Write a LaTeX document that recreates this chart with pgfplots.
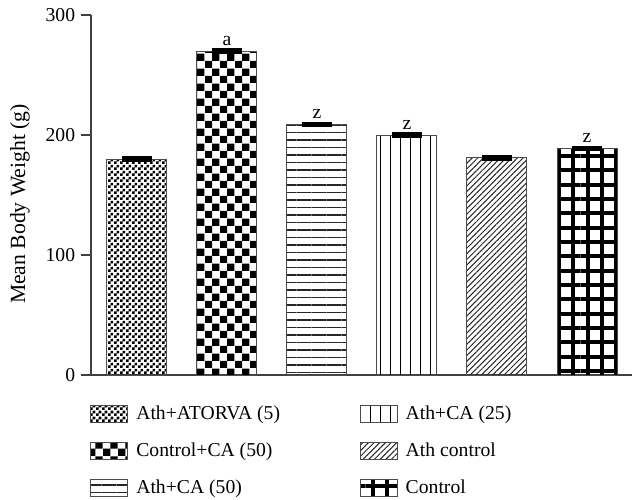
\documentclass[border=0pt]{standalone}
\usepackage{fontspec}
\setmainfont{Liberation Serif}
\usepackage{pgfplots}
\pgfplotsset{compat=1.18}
\usetikzlibrary{patterns,patterns.meta}

\pgfdeclarepattern{
  name=finecheck,
  type=uncolored,
  bottom left={\pgfpointorigin},
  top right={\pgfpoint{3.6pt}{3.6pt}},
  tile size={\pgfpoint{3.6pt}{3.6pt}},
  code={
    \pgfpathrectangle{\pgfpointorigin}{\pgfpoint{1.8pt}{1.8pt}}
    \pgfpathrectangle{\pgfpoint{1.8pt}{1.8pt}}{\pgfpoint{1.8pt}{1.8pt}}
    \pgfusepath{fill}
  }
}
\pgfdeclarepattern{
  name=bigcheck,
  type=uncolored,
  bottom left={\pgfpointorigin},
  top right={\pgfpoint{8.8pt}{8.8pt}},
  tile size={\pgfpoint{8.8pt}{8.8pt}},
  code={
    \pgfpathrectangle{\pgfpointorigin}{\pgfpoint{4.4pt}{4.4pt}}
    \pgfpathrectangle{\pgfpoint{4.4pt}{4.4pt}}{\pgfpoint{4.4pt}{4.4pt}}
    \pgfusepath{fill}
  }
}

\begin{document}
\begin{tikzpicture}
\begin{axis}[
  name=ax,
  scale only axis,
  width=324.6pt, height=216pt,
  xmin=-0.511, xmax=5.5,
  ymin=0, ymax=300,
  axis x line=bottom, axis y line=left,
  axis line style={-, black!75, line width=0.8pt},
  xtick=\empty,
  ytick={0,100,200,300},
  tick align=outside,
  major tick length=6pt,
  y tick style={black!75, line width=0.8pt},
  tick label style={font=\fontsize{11.8}{14}\selectfont},
  /pgf/number format/assume math mode=true,
  ylabel={Mean Body Weight (g)},
  ylabel style={at={(axis description cs:-0.1312,0.475)}, anchor=center, font=\fontsize{13}{15}\selectfont},
  ybar, bar width=36pt, bar shift=0pt,
  error bars/error bar style={line width=1.8pt, black},
  error bars/error mark options={rotate=90, mark size=9pt, line width=1.8pt, black},
  nodes near coords style={anchor=south, font=\fontsize{11.8}{14}\selectfont, text=black, yshift=-0.5pt},
  legend columns=3,
  transpose legend,
  legend image code/.code={\draw[#1] (0pt,-5.1pt) rectangle (22.2pt,5.1pt);},
  legend style={at={(0,0)}, anchor=north west, xshift=-0.6pt, yshift=-17.5pt,
    draw=none, fill=none, inner sep=0pt,
    font=\fontsize{11.8}{14}\selectfont,
    nodes={inner sep=0pt, anchor=west},
    row sep=11.6pt,
    /tikz/every odd column/.style={column sep=4.8pt},
    /tikz/every even column/.style={column sep=47.8pt}},
  legend cell align=left,
]
\addplot[draw=black!70, line width=0.6pt, pattern=finecheck, pattern color=black,
  error bars/.cd, y dir=both, y explicit]
  coordinates {(0,180) +- (0,1)};
\addplot[draw=black!70, line width=0.6pt, pattern=bigcheck, pattern color=black,
  nodes near coords=a,
  error bars/.cd, y dir=both, y explicit]
  coordinates {(1,270) +- (0,1)};
\addplot[draw=black!70, line width=0.6pt, pattern={Lines[angle=0,distance=4.5pt,line width=1pt]}, pattern color=black!85,
  nodes near coords=z,
  error bars/.cd, y dir=both, y explicit]
  coordinates {(2,209) +- (0,1)};
\addplot[draw=black!70, line width=0.6pt, pattern={Lines[angle=90,distance=6pt,line width=0.6pt]}, pattern color=black,
  nodes near coords=z,
  error bars/.cd, y dir=both, y explicit]
  coordinates {(3,200) +- (0,1)};
\addplot[draw=black!70, line width=0.6pt, pattern={Lines[angle=45,distance=2.4pt,line width=0.6pt]}, pattern color=black!85,
  error bars/.cd, y dir=both, y explicit]
  coordinates {(4,181) +- (0,1)};
\addplot[draw=black!70, line width=0.6pt, pattern={Hatch[angle=0,distance=8.6pt,line width=2.4pt]}, pattern color=black,
  nodes near coords=z,
  error bars/.cd, y dir=both, y explicit]
  coordinates {(5,189) +- (0,1)};
\legend{Ath+ATORVA (5), Control+CA (50), Ath+CA (50), Ath+CA (25), Ath control, Control}
\end{axis}
\pgfresetboundingbox
\path[use as bounding box] ([shift={(-54.6pt,-75pt)}]ax.south west) rectangle ([shift={(1.2pt,9pt)}]ax.north east);
\end{tikzpicture}
\end{document}
